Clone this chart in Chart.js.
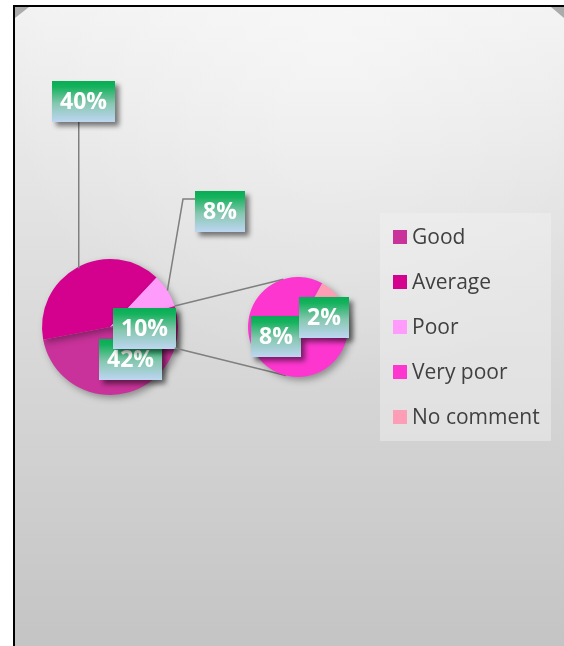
<!DOCTYPE html>
<html>
<head>
<meta charset="utf-8">
<script src="https://cdn.jsdelivr.net/npm/chart.js@4.4.1/dist/chart.umd.min.js"></script>
<style>
  html, body { margin: 0; padding: 0; background: #fff; }
  #wrap { position: relative; width: 564px; height: 646px; }
  #wrap canvas { position: absolute; left: 0; top: 0; }
</style>
</head>
<body>
<div id="wrap">
  <canvas id="mainPie" width="564" height="646"></canvas>
  <canvas id="splitPie" width="564" height="646"></canvas>
</div>
<script>
// survey answers, in percent
const mainLabels = ['Good', 'Average', 'Poor'];
const mainValues = [42, 40, 8];
const splitLabels = ['Very poor', 'No comment'];
const splitValues = [8, 2];

const mainColors = ['#c8329a', '#d4008e', '#ff9cfb'];
const otherColor = '#c9128c';
const splitColors = ['#fc36cf', '#fd9db6'];

const otherValue = splitValues.reduce((a, b) => a + b, 0);
const mainTotal = mainValues.reduce((a, b) => a + b, 0) + otherValue;
// turn the main pie so the "other" wedge faces the small pie
const mainRotation = 90 + (otherValue / mainTotal) * 180;

const FONT = '"Open Sans", "Liberation Sans", sans-serif';

// where each value box sits, relative to its pie centre
const mainBoxes = [
  { dx: -11, dy: 12 },
  { dx: -58, dy: -246, leader: 'down' },
  { dx: 85, dy: -136, leader: 'left' },
  { dx: 3, dy: -19 }
];
const splitBoxes = [
  { dx: -47, dy: -11 },
  { dx: 1, dy: -30 }
];

function drawValueBox(ctx, text, x, y) {
  ctx.save();
  ctx.font = 'bold 23px ' + FONT;
  const w = text.length > 2 ? 63 : 50;
  const h = 41;
  ctx.shadowColor = 'rgba(0,0,0,0.5)';
  ctx.shadowBlur = 5;
  ctx.shadowOffsetX = 4;
  ctx.shadowOffsetY = 4;
  const g = ctx.createLinearGradient(0, y, 0, y + h);
  g.addColorStop(0, '#05ad55');
  g.addColorStop(0.15, '#16b25d');
  g.addColorStop(0.55, '#86c7b0');
  g.addColorStop(1, '#bed6f2');
  ctx.fillStyle = g;
  ctx.fillRect(x, y, w, h);
  ctx.restore();
  ctx.save();
  ctx.font = 'bold 23px ' + FONT;
  ctx.fillStyle = '#ffffff';
  ctx.textAlign = 'center';
  ctx.textBaseline = 'middle';
  ctx.fillText(text, x + w / 2, y + h / 2 + 1);
  ctx.restore();
  return { w, h };
}

function edgePoint(arc, r) {
  const a = (arc.startAngle + arc.endAngle) / 2;
  return { x: arc.x + r * Math.cos(a), y: arc.y + r * Math.sin(a) };
}

const pieShadow = {
  id: 'pieShadow',
  beforeDatasetsDraw(chart) {
    const ctx = chart.ctx;
    ctx.save();
    ctx.shadowColor = 'rgba(0,0,0,0.35)';
    ctx.shadowBlur = 7;
    ctx.shadowOffsetX = 3;
    ctx.shadowOffsetY = 3;
  },
  afterDatasetsDraw(chart) {
    chart.ctx.restore();
  }
};

const chartBackground = {
  id: 'chartBackground',
  beforeDraw(chart) {
    const ctx = chart.ctx;
    const W = chart.width, H = chart.height;
    ctx.save();
    ctx.fillStyle = '#ffffff';
    ctx.fillRect(0, 0, W, H);
    const g = ctx.createLinearGradient(0, 6, 0, H);
    g.addColorStop(0, '#f2f2f2');
    g.addColorStop(0.45, '#dcdcdc');
    g.addColorStop(1, '#c4c4c4');
    ctx.fillStyle = g;
    ctx.fillRect(14, 6, W - 14, H - 6);
    const rg = ctx.createRadialGradient(330, 60, 10, 330, 60, 330);
    rg.addColorStop(0, 'rgba(255,255,255,0.4)');
    rg.addColorStop(1, 'rgba(255,255,255,0)');
    ctx.fillStyle = rg;
    ctx.fillRect(14, 6, W - 14, H - 6);
    // bevelled top corners
    ctx.fillStyle = '#ababab';
    ctx.beginPath();
    ctx.moveTo(15, 7); ctx.lineTo(29, 7); ctx.lineTo(15, 18); ctx.closePath();
    ctx.fill();
    ctx.beginPath();
    ctx.moveTo(551, 7); ctx.lineTo(564, 7); ctx.lineTo(564, 18); ctx.closePath();
    ctx.fill();
    // frame
    ctx.fillStyle = '#000000';
    ctx.fillRect(13, 5, 2, H - 5);
    ctx.fillRect(13, 5, W - 13, 2);
    ctx.restore();
  }
};

const mainLabelsPlugin = {
  id: 'mainLabels',
  afterDatasetsDraw(chart) {
    const ctx = chart.ctx;
    const meta = chart.getDatasetMeta(0);
    const values = chart.data.datasets[0].data;
    meta.data.forEach((arc, i) => {
      const b = mainBoxes[i];
      const bx = arc.x + b.dx, by = arc.y + b.dy;
      const p = edgePoint(arc, arc.outerRadius);
      ctx.save();
      ctx.strokeStyle = '#7f7f7f';
      ctx.lineWidth = 1.5;
      if (b.leader === 'down') {
        ctx.beginPath();
        ctx.moveTo(p.x + 1.5, by + 41);
        ctx.lineTo(p.x + 1.5, p.y + 1);
        ctx.stroke();
      } else if (b.leader === 'left') {
        ctx.beginPath();
        ctx.moveTo(bx, by + 8);
        ctx.lineTo(bx - 12, by + 8);
        ctx.lineTo(p.x, p.y);
        ctx.stroke();
      }
      ctx.restore();
      drawValueBox(ctx, values[i] + '%', bx, by);
    });
  }
};

const mainChart = new Chart(document.getElementById('mainPie'), {
  type: 'pie',
  data: {
    labels: [...mainLabels, 'Other'],
    datasets: [{
      data: [...mainValues, otherValue],
      backgroundColor: [...mainColors, otherColor],
      borderWidth: 0
    }]
  },
  options: {
    responsive: false,
    animation: false,
    rotation: mainRotation,
    layout: { padding: { left: 42, right: 386, top: 259, bottom: 251 } },
    plugins: { legend: { display: false }, tooltip: { enabled: false } }
  },
  plugins: [chartBackground, pieShadow, mainLabelsPlugin]
});

// lines joining the "other" wedge to the small pie
const connectors = {
  id: 'connectors',
  beforeDatasetsDraw(chart) {
    const other = mainChart.getDatasetMeta(0).data[mainValues.length];
    const small = chart.getDatasetMeta(0).data[0];
    const ctx = chart.ctx;
    const r0 = other.outerRadius, r1 = small.outerRadius;
    const ends = [
      [other.startAngle, -107 * Math.PI / 180],
      [other.endAngle, 104 * Math.PI / 180]
    ];
    ctx.save();
    ctx.strokeStyle = '#7f7f7f';
    ctx.lineWidth = 1.5;
    ends.forEach(([a0, a1]) => {
      ctx.beginPath();
      ctx.moveTo(other.x + r0 * Math.cos(a0), other.y + r0 * Math.sin(a0));
      ctx.lineTo(small.x + r1 * Math.cos(a1), small.y + r1 * Math.sin(a1));
      ctx.stroke();
    });
    ctx.restore();
  }
};

const splitLabelsPlugin = {
  id: 'splitLabels',
  afterDatasetsDraw(chart) {
    const ctx = chart.ctx;
    const meta = chart.getDatasetMeta(0);
    const values = chart.data.datasets[0].data;
    meta.data.forEach((arc, i) => {
      drawValueBox(ctx, values[i] + '%', arc.x + splitBoxes[i].dx, arc.y + splitBoxes[i].dy);
    });
  }
};

const legendBox = {
  id: 'legendBox',
  afterDraw(chart) {
    const ctx = chart.ctx;
    const names = [...mainLabels, ...splitLabels];
    const colors = [...mainColors, ...splitColors];
    const x = 380, y = 213, w = 171, h = 228;
    ctx.save();
    ctx.fillStyle = 'rgba(242,242,242,0.45)';
    ctx.fillRect(x, y, w, h);
    ctx.font = '21px ' + FONT;
    ctx.textBaseline = 'middle';
    names.forEach((name, i) => {
      const cy = y + 24 + i * 45;
      ctx.fillStyle = colors[i];
      ctx.fillRect(x + 13, cy - 7, 14, 14);
      ctx.fillStyle = '#404040';
      ctx.fillText(name, x + 32, cy + 1);
    });
    ctx.restore();
  }
};

new Chart(document.getElementById('splitPie'), {
  type: 'pie',
  data: {
    labels: splitLabels,
    datasets: [{
      data: splitValues,
      backgroundColor: splitColors,
      borderWidth: 0
    }]
  },
  options: {
    responsive: false,
    animation: false,
    rotation: 101,
    layout: { padding: { left: 248, right: 216, top: 277, bottom: 269 } },
    plugins: { legend: { display: false }, tooltip: { enabled: false } }
  },
  plugins: [connectors, pieShadow, splitLabelsPlugin, legendBox]
});
</script>
</body>
</html>
